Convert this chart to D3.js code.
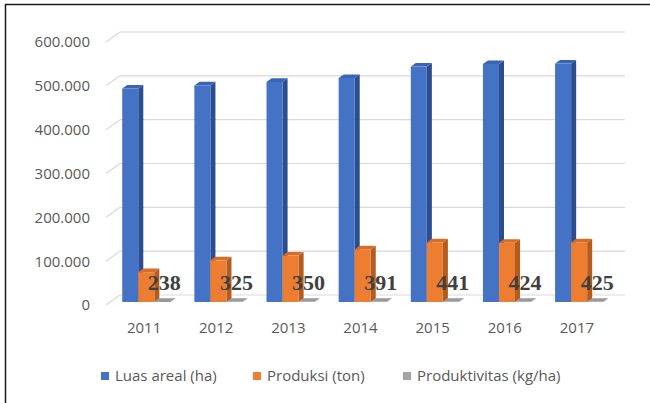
<!DOCTYPE html>
<html>
<head>
<meta charset="utf-8">
<script src="https://cdn.jsdelivr.net/npm/d3@7"></script>
<style>
  html, body { margin: 0; padding: 0; background: #fff; }
  svg { display: block; }
</style>
</head>
<body>
<svg id="chart" width="650" height="403"></svg>
<script>
// Data
const years = ["2011", "2012", "2013", "2014", "2015", "2016", "2017"];
const luasAreal = [487000, 494000, 502000, 511000, 537000, 543000, 544000];      // ha
const produksi = [68000, 95000, 106000, 120000, 136000, 135000, 136000];         // ton
const produktivitas = [238, 325, 350, 391, 441, 424, 425];                       // kg/ha
const yTicks = [0, 100000, 200000, 300000, 400000, 500000, 600000];
const seriesNames = ["Luas areal (ha)", "Produksi (ton)", "Produktivitas (kg/ha)"];

const series = [
  { name: seriesNames[0], values: luasAreal, front: "#4472C4", side: "#2C4E8E", top: "#3A65B4" },
  { name: seriesNames[1], values: produksi, front: "#ED7D31", side: "#B35C1F", top: "#D46E29" },
  { name: seriesNames[2], values: produktivitas, front: "#A5A5A5", side: "#7F7F7F", top: "#9A9A9A" }
];

const svg = d3.select("#chart");
const font = "'Open Sans', sans-serif";
const idFmt = d3.formatLocale({ decimal: ",", thousands: ".", grouping: [3], currency: ["Rp", ""] }).format(",");

// Chart frame
svg.append("rect")
  .attr("x", 5.5).attr("y", 4.5).attr("width", 700).attr("height", 500)
  .attr("fill", "none").attr("stroke", "#1a1a1a").attr("stroke-width", 1.5);

// Floor geometry: front plane with a depth vector toward the back wall
const depth = { dx: 14, dy: -10 };
const x = d3.scaleBand().domain(years).range([106, 611]);
const sub = d3.scaleBand().domain(seriesNames).range([0, x.bandwidth()]).paddingInner(0).paddingOuter(0.75);
const y = d3.scaleLinear().domain([0, 600000]).range([305, 42]);

// Gridlines on the back wall plus the left wall diagonals
const grid = svg.append("g").attr("stroke", "#D9D9D9").attr("stroke-width", 1.2).attr("fill", "none");
yTicks.forEach(t => {
  const yf = y(t), yb = yf + depth.dy;
  grid.append("line").attr("x1", 106 + depth.dx).attr("x2", 611 + depth.dx).attr("y1", yb).attr("y2", yb);
  grid.append("line").attr("x1", 106).attr("y1", yf).attr("x2", 106 + depth.dx).attr("y2", yb);
});

// Y axis labels
svg.append("g").selectAll("text").data(yTicks).join("text")
  .attr("x", 90).attr("y", d => y(d)).attr("dy", "0.36em")
  .attr("text-anchor", "end")
  .attr("font-family", font).attr("font-size", 15).attr("fill", "#595959")
  .text(d => idFmt(d));

// 3D columns: front face sits at depth d0, column thickness dd (fractions of floor depth)
const d0 = 0.3, dd = 0.36;
const ox = depth.dx * d0, oy = depth.dy * d0;
const tx = depth.dx * dd, ty = depth.dy * dd;

const bars = svg.append("g");
years.forEach((yr, i) => {
  series.forEach(s => {
    const v = s.values[i];
    const x0 = x(yr) + sub(s.name) + ox;
    const w = sub.bandwidth();
    const yb = y(0) + oy;
    const yt = y(v) + oy;
    const g = bars.append("g");
    // side face
    g.append("path")
      .attr("d", `M${x0 + w},${yt} L${x0 + w + tx},${yt + ty} L${x0 + w + tx},${yb + ty} L${x0 + w},${yb} Z`)
      .attr("fill", s.side);
    // top face
    g.append("path")
      .attr("d", `M${x0},${yt} L${x0 + tx},${yt + ty} L${x0 + w + tx},${yt + ty} L${x0 + w},${yt} Z`)
      .attr("fill", s.top);
    // front face
    g.append("rect")
      .attr("x", x0).attr("y", yt).attr("width", w).attr("height", Math.max(0, yb - yt))
      .attr("fill", s.front);
  });
});

// Value labels for productivity
svg.append("g").selectAll("text").data(years).join("text")
  .attr("x", (d, i) => x(d) + sub(seriesNames[2]) + ox + sub.bandwidth() / 2 + 2)
  .attr("y", (d, i) => y(produktivitas[i]) + oy - 12)
  .attr("text-anchor", "middle")
  .attr("font-family", "'Liberation Serif', serif").attr("font-weight", "bold")
  .attr("font-size", 22).attr("fill", "#404040")
  .text((d, i) => produktivitas[i]);

// Category labels
svg.append("g").selectAll("text").data(years).join("text")
  .attr("x", d => x(d) + x.bandwidth() / 2 + 2)
  .attr("y", 328).attr("dy", "0.36em")
  .attr("text-anchor", "middle")
  .attr("font-family", font).attr("font-size", 15).attr("fill", "#595959")
  .text(d => d);

// Legend
const legendX = [101, 253, 403];
const legend = svg.append("g");
series.forEach((s, i) => {
  legend.append("rect").attr("x", legendX[i]).attr("y", 372).attr("width", 8).attr("height", 8).attr("fill", s.front);
  legend.append("text")
    .attr("x", legendX[i] + 14).attr("y", 376).attr("dy", "0.36em")
    .attr("font-family", font).attr("font-size", 15).attr("fill", "#595959")
    .text(s.name);
});
</script>
</body>
</html>
